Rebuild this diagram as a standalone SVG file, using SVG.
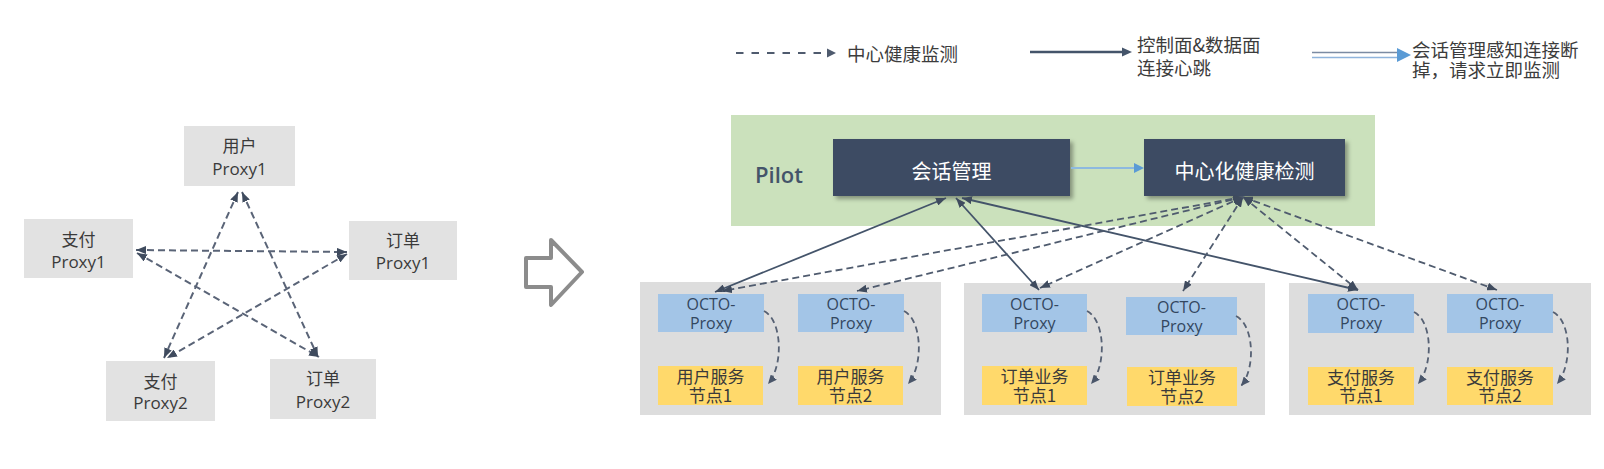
<svg xmlns="http://www.w3.org/2000/svg" width="1604" height="469" viewBox="0 0 1604 469">
<defs>
<style>
.cjk{font-family:"Noto Sans CJK SC","Open Sans",sans-serif}
.lat{font-family:"Open Sans","Noto Sans CJK SC",sans-serif}
.lbox{fill:#E2E2E2}
.ltxt{font-size:17px;fill:#3A3A3A;text-anchor:middle}
.grp{fill:#DDDDDD}
.octo{fill:#A3C5E7}
.otxt{font-size:16px;fill:#33475F;text-anchor:middle}
.node{fill:#FFD96B}
.ntxt{font-size:17px;fill:#3A3A3A;text-anchor:middle}
.dark{fill:#3E4C63}
.dtxt{font-size:20px;fill:#FFFFFF;text-anchor:middle}
.leg{font-size:18.5px;fill:#3C3C3C}
.star{fill:none;stroke:#5A6477;stroke-width:2;stroke-dasharray:7 4}
.sol{fill:none;stroke:#44546A;stroke-width:1.8}
.dsh{fill:none;stroke:#4F5B6E;stroke-width:1.8;stroke-dasharray:7 4}
.crv{fill:none;stroke:#566174;stroke-width:1.8;stroke-dasharray:6 4}
</style>
<marker id="ah" viewBox="0 0 10 8" refX="10" refY="4" markerWidth="10" markerHeight="8" markerUnits="userSpaceOnUse" orient="auto-start-reverse"><path d="M0,0 L10,4 L0,8 z" fill="#3F4B5E"/></marker>
<marker id="ahs" viewBox="0 0 9 8" refX="9" refY="4" markerWidth="9" markerHeight="8" markerUnits="userSpaceOnUse" orient="auto"><path d="M0,0 L9,4 L0,8 z" fill="#4A566A"/></marker>
<filter id="sh" x="-10%" y="-20%" width="130%" height="160%"><feDropShadow dx="3" dy="3" stdDeviation="2" flood-color="#000" flood-opacity="0.35"/></filter>
</defs>
<rect x="0" y="0" width="1604" height="469" fill="#FFFFFF"/>

<!-- Left: mesh of proxies -->
<g id="user-proxy1"><rect class="lbox" x="184" y="126" width="111" height="60"/><text class="cjk ltxt" x="239.5" y="152">用户</text><text class="lat ltxt" x="239.5" y="175">Proxy1</text></g>
<g id="pay-proxy1"><rect class="lbox" x="24" y="219" width="109" height="59"/><text class="cjk ltxt" x="78.5" y="246">支付</text><text class="lat ltxt" x="78.5" y="268">Proxy1</text></g>
<g id="order-proxy1"><rect class="lbox" x="349" y="221" width="108" height="59"/><text class="cjk ltxt" x="403" y="247">订单</text><text class="lat ltxt" x="403" y="269">Proxy1</text></g>
<g id="pay-proxy2"><rect class="lbox" x="106" y="361" width="109" height="60"/><text class="cjk ltxt" x="160.5" y="388">支付</text><text class="lat ltxt" x="160.5" y="409">Proxy2</text></g>
<g id="order-proxy2"><rect class="lbox" x="270" y="359" width="106" height="60"/><text class="cjk ltxt" x="323" y="385">订单</text><text class="lat ltxt" x="323" y="408">Proxy2</text></g>

<!-- Hollow arrow -->
<g id="transition-arrow"><polygon points="526,258 551,258 551,240 582,272 551,305 551,287 526,287" fill="#FFFFFF" stroke="#8C8C8C" stroke-width="4" stroke-linejoin="round"/></g>

<!-- Legend -->
<g id="legend">
<line x1="736" y1="53" x2="828" y2="53" stroke="#4F5B6E" stroke-width="2.2" stroke-dasharray="7.5 8"/>
<polygon points="827,48.5 836,53 827,57.5" fill="#4F5B6E"/>
<text class="cjk leg" x="847" y="61">中心健康监测</text>
<line x1="1030" y1="52" x2="1124" y2="52" stroke="#44546A" stroke-width="2.5"/>
<polygon points="1122,47.5 1132,52 1122,56.5" fill="#44546A"/>
<text class="cjk leg" x="1137" y="52">控制面&amp;数据面</text>
<text class="cjk leg" x="1137" y="75">连接心跳</text>
<line x1="1312" y1="52.5" x2="1399" y2="52.5" stroke="#7B8BA3" stroke-width="1.6"/>
<line x1="1312" y1="57.5" x2="1399" y2="57.5" stroke="#8FB4DC" stroke-width="1.6"/>
<polygon points="1397,48 1411,55 1397,62" fill="#5B9BD5"/>
<text class="cjk leg" x="1412" y="57">会话管理感知连接断</text>
<text class="cjk leg" x="1412" y="77">掉，请求立即监测</text>
</g>

<!-- Pilot -->
<g id="pilot">
<rect x="731" y="115" width="644" height="111" fill="#CBE1BC"/>
<text class="lat" x="755" y="183" font-size="22" font-weight="600" fill="#44546A">Pilot</text>
</g>
<g id="session-mgmt"><rect class="dark" x="833" y="139" width="237" height="57" filter="url(#sh)"/><text class="cjk dtxt" x="951.5" y="179">会话管理</text></g>
<g id="health-check"><rect class="dark" x="1144" y="139" width="201" height="57" filter="url(#sh)"/><text class="cjk dtxt" x="1244.5" y="179">中心化健康检测</text></g>

<!-- Groups -->
<g id="group-user">
<rect class="grp" x="640" y="282" width="301" height="133"/>
</g>
<g id="octo-u1"><rect class="octo" x="658" y="294" width="106" height="38"/><text class="lat otxt" x="711" y="310">OCTO-</text><text class="lat otxt" x="711" y="329">Proxy</text></g>
<g id="node-u1"><rect class="node" x="658" y="366" width="105" height="39"/><text class="cjk ntxt" x="710.5" y="383">用户服务</text><text class="cjk ntxt" x="710.5" y="402">节点1</text></g>
<g id="octo-u2"><rect class="octo" x="798" y="294" width="106" height="38"/><text class="lat otxt" x="851" y="310">OCTO-</text><text class="lat otxt" x="851" y="329">Proxy</text></g>
<g id="node-u2"><rect class="node" x="798" y="366" width="105" height="39"/><text class="cjk ntxt" x="850.5" y="383">用户服务</text><text class="cjk ntxt" x="850.5" y="402">节点2</text></g>

<g id="group-order">
<rect class="grp" x="964" y="283" width="301" height="132"/>
</g>
<g id="octo-o1"><rect class="octo" x="982" y="294" width="105" height="38"/><text class="lat otxt" x="1034.5" y="310">OCTO-</text><text class="lat otxt" x="1034.5" y="329">Proxy</text></g>
<g id="node-o1"><rect class="node" x="982" y="366" width="105" height="39"/><text class="cjk ntxt" x="1034.5" y="383">订单业务</text><text class="cjk ntxt" x="1034.5" y="402">节点1</text></g>
<g id="octo-o2"><rect class="octo" x="1126" y="297" width="111" height="38"/><text class="lat otxt" x="1181.5" y="313">OCTO-</text><text class="lat otxt" x="1181.5" y="332">Proxy</text></g>
<g id="node-o2"><rect class="node" x="1127" y="367" width="110" height="39"/><text class="cjk ntxt" x="1182" y="384">订单业务</text><text class="cjk ntxt" x="1182" y="403">节点2</text></g>

<g id="group-pay">
<rect class="grp" x="1289" y="283" width="302" height="132"/>
</g>
<g id="octo-p1"><rect class="octo" x="1308" y="294" width="106" height="39"/><text class="lat otxt" x="1361" y="310">OCTO-</text><text class="lat otxt" x="1361" y="329">Proxy</text></g>
<g id="node-p1"><rect class="node" x="1308" y="367" width="106" height="38"/><text class="cjk ntxt" x="1361" y="384">支付服务</text><text class="cjk ntxt" x="1361" y="402">节点1</text></g>
<g id="octo-p2"><rect class="octo" x="1447" y="294" width="106" height="39"/><text class="lat otxt" x="1500" y="310">OCTO-</text><text class="lat otxt" x="1500" y="329">Proxy</text></g>
<g id="node-p2"><rect class="node" x="1447" y="367" width="106" height="38"/><text class="cjk ntxt" x="1500" y="384">支付服务</text><text class="cjk ntxt" x="1500" y="402">节点2</text></g>

<!-- Connectors -->
<g id="connectors">
<path class="star" d="M238,192 L164,358" marker-start="url(#ah)" marker-end="url(#ah)"/>
<path class="star" d="M242,192 L318,357" marker-start="url(#ah)" marker-end="url(#ah)"/>
<path class="star" d="M136,250 L347,252" marker-start="url(#ah)" marker-end="url(#ah)"/>
<path class="star" d="M347,254 L167,358" marker-start="url(#ah)" marker-end="url(#ah)"/>
<path class="star" d="M137,253 L319,357" marker-start="url(#ah)" marker-end="url(#ah)"/>

<line x1="1071" y1="168" x2="1136" y2="168" stroke="#8DB9DF" stroke-width="2"/>
<polygon points="1134,163 1144,168 1134,173" fill="#5B9BD5"/>

<path class="sol" d="M946,198 L715,292" marker-start="url(#ah)" marker-end="url(#ah)"/>
<path class="sol" d="M956,198 L1039,290" marker-start="url(#ah)" marker-end="url(#ah)"/>
<path class="sol" d="M962,198 L1358,290" marker-start="url(#ah)" marker-end="url(#ah)"/>

<path class="dsh" d="M1243,197 L722,291" marker-start="url(#ah)" marker-end="url(#ah)"/>
<path class="dsh" d="M1243,197 L857,291" marker-start="url(#ah)" marker-end="url(#ah)"/>
<path class="dsh" d="M1243,197 L1040,288" marker-start="url(#ah)" marker-end="url(#ah)"/>
<path class="dsh" d="M1243,197 L1183,291" marker-start="url(#ah)" marker-end="url(#ah)"/>
<path class="dsh" d="M1243,197 L1358,290" marker-start="url(#ah)" marker-end="url(#ah)"/>
<path class="dsh" d="M1243,197 L1497,290" marker-start="url(#ah)" marker-end="url(#ah)"/>

<path class="crv" d="M764,311 C782,320 784,365 768,384" marker-end="url(#ahs)"/>
<path class="crv" d="M904,311 C922,320 924,365 908,384" marker-end="url(#ahs)"/>
<path class="crv" d="M1087,311 C1105,320 1107,365 1091,384" marker-end="url(#ahs)"/>
<path class="crv" d="M1236,316 C1254,325 1256,368 1241,386" marker-end="url(#ahs)"/>
<path class="crv" d="M1414,312 C1432,321 1434,364 1418,384" marker-end="url(#ahs)"/>
<path class="crv" d="M1553,312 C1571,321 1573,364 1557,384" marker-end="url(#ahs)"/>
</g>
</svg>
